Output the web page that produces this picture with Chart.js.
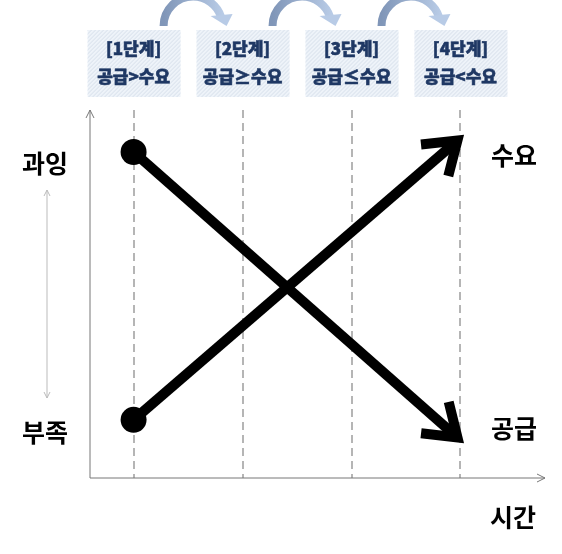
<!DOCTYPE html><html><head><meta charset="utf-8">
<script src="https://cdn.jsdelivr.net/npm/chart.js@4"></script>
<style>html,body{margin:0;background:#fff}#w{width:562px;height:554px}</style></head><body>
<div id="w"><canvas id="c"></canvas></div>
<script>
const stages=["[1단계]","[2단계]","[3단계]","[4단계]"];
const stageRel=["공급>수요","공급≥수요","공급≤수요","공급<수요"];
const stageX=[1,2,3,4];
const supplyX=[1,4], supplyY=[8.86,1.03];
const demandX=[1,4], demandY=[1.58,9.24];
const seriesNames=["공급","수요"];
const yLabels=["과잉","부족"]; const xTitle="시간";
const F='"Noto Sans CJK KR","Noto Sans",sans-serif';
const deco={id:'deco',afterDatasetsDraw(ch){
 const c=ch.ctx,x=ch.scales.x,y=ch.scales.y,a=ch.chartArea;
 c.save();
 c.strokeStyle='#777';c.lineWidth=1;c.fillStyle='#777';
 c.beginPath();c.moveTo(a.left,a.top);c.lineTo(a.left,a.bottom);c.lineTo(a.right+5,a.bottom);c.stroke();
 c.beginPath();c.moveTo(a.left-4,a.top+8);c.lineTo(a.left,a.top);c.lineTo(a.left+4,a.top+8);c.stroke();
 c.beginPath();c.moveTo(a.right-3,a.bottom-4);c.lineTo(a.right+5,a.bottom);c.lineTo(a.right-3,a.bottom+4);c.stroke();
 c.strokeStyle='#bbb';c.beginPath();c.moveTo(47,190);c.lineTo(47,398);c.stroke();
 c.beginPath();c.moveTo(44,196);c.lineTo(47,190);c.lineTo(50,196);c.moveTo(44,392);c.lineTo(47,398);c.lineTo(50,392);c.stroke();
 [[supplyX,supplyY],[demandX,demandY]].forEach(([xs,ys])=>{
  const x0=x.getPixelForValue(xs[0]),y0=y.getPixelForValue(ys[0]),x1=x.getPixelForValue(xs[1]),y1=y.getPixelForValue(ys[1]);
  const ang=Math.atan2(y1-y0,x1-x0);
  c.strokeStyle='#000';c.lineWidth=10;c.lineCap='butt';
  c.beginPath();c.moveTo(x0,y0);c.lineTo(x1-6*Math.cos(ang),y1-6*Math.sin(ang));c.stroke();
  c.fillStyle='#000';c.beginPath();c.arc(x0,y0,13,0,7);c.fill();
  c.lineJoin='miter';c.lineWidth=10;
  const L=40,s=0.55;
  c.beginPath();
  c.moveTo(x1-L*Math.cos(ang-s),y1-L*Math.sin(ang-s));c.lineTo(x1-4*Math.cos(ang),y1-4*Math.sin(ang));
  c.lineTo(x1-L*Math.cos(ang+s),y1-L*Math.sin(ang+s));c.stroke();
 });
 c.fillStyle='#000';c.font='bold 25px '+F;c.textAlign='center';c.textBaseline='middle';
 c.fillText(yLabels[0],45,163);c.fillText(yLabels[1],45,432);
 c.fillText(seriesNames[1],514,155);c.fillText(seriesNames[0],514,428);c.fillText(xTitle,513,517);
 stageX.forEach((v,i)=>{
  const cx=x.getPixelForValue(v),bx=cx-46,by=30,bw=93,bh=67;
  c.fillStyle='#eef3f9';c.fillRect(bx,by,bw,bh);
  c.save();c.beginPath();c.rect(bx,by,bw,bh);c.clip();c.strokeStyle='#d6dfea';c.lineWidth=1;
  for(let k=-bh;k<bw;k+=4){c.beginPath();c.moveTo(bx+k,by+bh);c.lineTo(bx+k+bh,by);c.stroke();}
  c.restore();
  c.fillStyle='#1f3864';c.font='900 17px '+F;
  c.fillText(stages[i],cx,49);c.fillText(stageRel[i],cx,77);
  c.strokeStyle='#1f3864';c.lineWidth=0.6;c.strokeText(stages[i],cx,49);c.strokeText(stageRel[i],cx,77);
  if(i<3){
   const ax=cx+30,bx2=x.getPixelForValue(stageX[i+1])-20;
   const mx=(ax+bx2)/2,r=(bx2-ax)/2;
   const g=c.createLinearGradient(ax,0,bx2,0);g.addColorStop(0,'#8096b8');g.addColorStop(1,'#b8cbe6');
   c.strokeStyle=g;c.lineWidth=8;c.beginPath();c.arc(mx,26,r,Math.PI,Math.PI*1.9);c.stroke();
   c.fillStyle='#b8cbe6';
   c.beginPath();c.moveTo(bx2-12,16);c.lineTo(bx2+10,14);c.lineTo(bx2+4,26);c.closePath();c.fill();
  }
 });
 c.restore();
}};
new Chart(document.getElementById('c'),{type:'scatter',
 data:{datasets:[{label:seriesNames[0],data:[],showLine:false}]},
 options:{responsive:true,maintainAspectRatio:false,animation:false,
  layout:{padding:{left:82,top:110,right:22,bottom:76}},
  plugins:{legend:{display:false},tooltip:{enabled:false}},
  scales:{
   x:{type:'linear',min:0.6,max:4.73,border:{display:false,dash:[8,5]},
      afterBuildTicks(s){s.ticks=stageX.map(v=>({value:v}));},
      ticks:{display:false},grid:{color:'#b5b5b5',lineWidth:2,drawTicks:false}},
   y:{min:0,max:10,border:{display:false},ticks:{display:false},grid:{display:false}}
  }},
 plugins:[deco]
});
</script>
</body></html>
